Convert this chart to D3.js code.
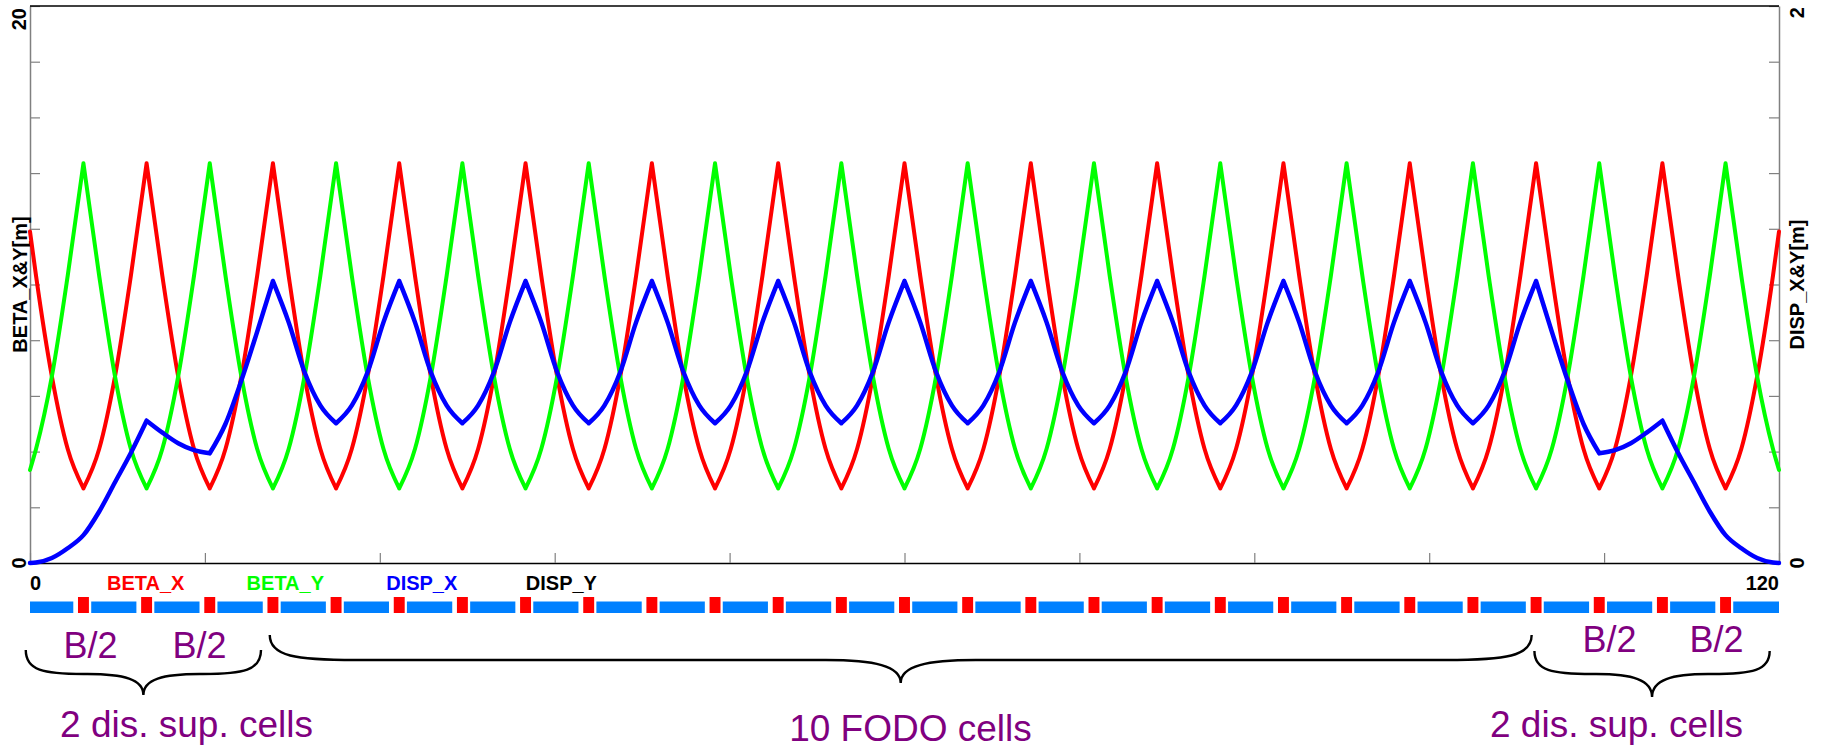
<!DOCTYPE html>
<html>
<head>
<meta charset="utf-8">
<script src="https://cdn.jsdelivr.net/npm/d3@7"></script>
<style>
  html, body { margin: 0; padding: 0; background: #ffffff; }
  svg { display: block; }
</style>
</head>
<body>
<svg id="chart" width="1821" height="749"></svg>
<script>
// ---------------- data ----------------
// longitudinal position s [m] of each optics sample
const sPos = [
  0, 0.417, 1.5, 2.583,
  3.667, 4.75, 5.833, 6.917,
  8, 9.083, 10.167, 11.25,
  12.333, 13.417, 14.5, 15.583,
  16.667, 17.75, 18.833, 19.917,
  21, 22.083, 23.167, 24.25,
  25.333, 26.417, 27.5, 28.583,
  29.667, 30.75, 31.833, 32.917,
  34, 35.083, 36.167, 37.25,
  38.333, 39.417, 40.5, 41.583,
  42.667, 43.75, 44.833, 45.917,
  47, 48.083, 49.167, 50.25,
  51.333, 52.417, 53.5, 54.583,
  55.667, 56.75, 57.833, 58.917,
  60, 61.083, 62.167, 63.25,
  64.333, 65.417, 66.5, 67.583,
  68.667, 69.75, 70.833, 71.917,
  73, 74.083, 75.167, 76.25,
  77.333, 78.417, 79.5, 80.583,
  81.667, 82.75, 83.833, 84.917,
  86, 87.083, 88.167, 89.25,
  90.333, 91.417, 92.5, 93.583,
  94.667, 95.75, 96.833, 97.917,
  99, 100.083, 101.167, 102.25,
  103.333, 104.417, 105.5, 106.583,
  107.667, 108.75, 109.833, 110.917,
  112, 113.083, 114.167, 115.25,
  116.333, 117.417, 118.5, 119.583,
  120
];

// horizontal beta function [m]
const betaX = [
  11.9, 10.3, 6.7, 4.1,
  2.68, 4.1, 6.7, 10.3,
  14.35, 10.3, 6.7, 4.1,
  2.68, 4.1, 6.7, 10.3,
  14.35, 10.3, 6.7, 4.1,
  2.68, 4.1, 6.7, 10.3,
  14.35, 10.3, 6.7, 4.1,
  2.68, 4.1, 6.7, 10.3,
  14.35, 10.3, 6.7, 4.1,
  2.68, 4.1, 6.7, 10.3,
  14.35, 10.3, 6.7, 4.1,
  2.68, 4.1, 6.7, 10.3,
  14.35, 10.3, 6.7, 4.1,
  2.68, 4.1, 6.7, 10.3,
  14.35, 10.3, 6.7, 4.1,
  2.68, 4.1, 6.7, 10.3,
  14.35, 10.3, 6.7, 4.1,
  2.68, 4.1, 6.7, 10.3,
  14.35, 10.3, 6.7, 4.1,
  2.68, 4.1, 6.7, 10.3,
  14.35, 10.3, 6.7, 4.1,
  2.68, 4.1, 6.7, 10.3,
  14.35, 10.3, 6.7, 4.1,
  2.68, 4.1, 6.7, 10.3,
  14.35, 10.3, 6.7, 4.1,
  2.68, 4.1, 6.7, 10.3,
  14.35, 10.3, 6.7, 4.1,
  2.68, 4.1, 6.7, 10.3,
  11.9
];

// vertical beta function [m]
const betaY = [
  3.34, 4.1, 6.7, 10.3,
  14.35, 10.3, 6.7, 4.1,
  2.68, 4.1, 6.7, 10.3,
  14.35, 10.3, 6.7, 4.1,
  2.68, 4.1, 6.7, 10.3,
  14.35, 10.3, 6.7, 4.1,
  2.68, 4.1, 6.7, 10.3,
  14.35, 10.3, 6.7, 4.1,
  2.68, 4.1, 6.7, 10.3,
  14.35, 10.3, 6.7, 4.1,
  2.68, 4.1, 6.7, 10.3,
  14.35, 10.3, 6.7, 4.1,
  2.68, 4.1, 6.7, 10.3,
  14.35, 10.3, 6.7, 4.1,
  2.68, 4.1, 6.7, 10.3,
  14.35, 10.3, 6.7, 4.1,
  2.68, 4.1, 6.7, 10.3,
  14.35, 10.3, 6.7, 4.1,
  2.68, 4.1, 6.7, 10.3,
  14.35, 10.3, 6.7, 4.1,
  2.68, 4.1, 6.7, 10.3,
  14.35, 10.3, 6.7, 4.1,
  2.68, 4.1, 6.7, 10.3,
  14.35, 10.3, 6.7, 4.1,
  2.68, 4.1, 6.7, 10.3,
  14.35, 10.3, 6.7, 4.1,
  2.68, 4.1, 6.7, 10.3,
  14.35, 10.3, 6.7, 4.1,
  3.34
];

// horizontal dispersion [m]
const dispX = [
  0, 0.0015, 0.018, 0.053,
  0.1, 0.185, 0.29, 0.395,
  0.511, 0.468, 0.43, 0.405,
  0.394, 0.5, 0.655, 0.83,
  1.012, 0.864, 0.686, 0.566,
  0.502, 0.566, 0.686, 0.864,
  1.012, 0.864, 0.686, 0.566,
  0.502, 0.566, 0.686, 0.864,
  1.012, 0.864, 0.686, 0.566,
  0.502, 0.566, 0.686, 0.864,
  1.012, 0.864, 0.686, 0.566,
  0.502, 0.566, 0.686, 0.864,
  1.012, 0.864, 0.686, 0.566,
  0.502, 0.566, 0.686, 0.864,
  1.012, 0.864, 0.686, 0.566,
  0.502, 0.566, 0.686, 0.864,
  1.012, 0.864, 0.686, 0.566,
  0.502, 0.566, 0.686, 0.864,
  1.012, 0.864, 0.686, 0.566,
  0.502, 0.566, 0.686, 0.864,
  1.012, 0.864, 0.686, 0.566,
  0.502, 0.566, 0.686, 0.864,
  1.012, 0.864, 0.686, 0.566,
  0.502, 0.566, 0.686, 0.864,
  1.012, 0.83, 0.655, 0.5,
  0.394, 0.405, 0.43, 0.468,
  0.511, 0.395, 0.29, 0.185,
  0.1, 0.053, 0.018, 0.0015,
  0
];

// lattice: quadrupole centres, quadrupole length, bending magnet extents [m]
const quadCenters = [
  3.667, 8, 12.333, 16.667, 21, 25.333, 29.667, 34, 38.333, 42.667,
  47, 51.333, 55.667, 60, 64.333, 68.667, 73, 77.333, 81.667, 86,
  90.333, 94.667, 99, 103.333, 107.667, 112, 116.333
];
const quadLength = 0.75;
const dipoleStart = [
  0, 4.2, 8.53, 12.86, 17.2, 21.53, 25.86, 30.2, 34.53, 38.86,
  43.2, 47.53, 51.86, 56.2, 60.53, 64.86, 69.2, 73.53, 77.86, 82.2,
  86.53, 90.86, 95.2, 99.53, 103.86, 108.2, 112.53, 116.86
];
const dipoleEnd = [
  2.97, 7.3, 11.63, 15.97, 20.3, 24.63, 28.97, 33.3, 37.63, 41.97,
  46.3, 50.63, 54.97, 59.3, 63.63, 67.97, 72.3, 76.63, 80.97, 85.3,
  89.63, 93.97, 98.3, 102.63, 106.97, 111.3, 115.63, 120
];

// axes
const sDomain = [0, 120];
const sTicks = [0, 12, 24, 36, 48, 60, 72, 84, 96, 108, 120];
const sTickLabels = ["0", "120"];
const betaDomain = [0, 20];
const betaTicks = [0, 2, 4, 6, 8, 10, 12, 14, 16, 18, 20];
const betaTickLabels = ["0", "20"];
const dispDomain = [0, 2];
const dispTicks = [0, 0.2, 0.4, 0.6, 0.8, 1, 1.2, 1.4, 1.6, 1.8, 2];
const dispTickLabels = ["0", "2"];
const leftTitle = "BETA_X&Y[m]";
const rightTitle = "DISP_X&Y[m]";

// legend
const legendNames = ["BETA_X", "BETA_Y", "DISP_X", "DISP_Y"];
const legendColors = ["#ff0000", "#00ff00", "#0000ff", "#000000"];

// lattice section annotations (extents in s [m])
const braceFrom = [-0.29, 16.45, 103.22];
const braceTo = [15.85, 103.03, 119.36];
const sectionNames = ["2 dis. sup. cells", "10 FODO cells", "2 dis. sup. cells"];
const sectionCentre = [10.74, 60.41, 108.85];
const bendLabel = "B/2";
const bendLabelAt = [4.15, 11.63, 108.37, 115.71];

// ---------------- drawing ----------------
const svg = d3.select("#chart");
const L = 30, R = 1779, T = 6, B = 563;
const boldFont = "'Liberation Sans', Arial, Helvetica, sans-serif";

const x = d3.scaleLinear().domain(sDomain).range([L, R]);
const yB = d3.scaleLinear().domain(betaDomain).range([B, T]);
const yD = d3.scaleLinear().domain(dispDomain).range([B, T]);

// frame and axes
const axisGrey = "#808080";
const leftAxis = svg.append("g").attr("transform", `translate(${L},0)`)
  .call(d3.axisLeft(yB).tickValues(betaTicks).tickSize(-10).tickSizeOuter(0).tickFormat(""));
const rightAxis = svg.append("g").attr("transform", `translate(${R},0)`)
  .call(d3.axisRight(yD).tickValues(dispTicks).tickSize(-10).tickSizeOuter(0).tickFormat(""));
const bottomAxis = svg.append("g").attr("transform", `translate(0,${B})`)
  .call(d3.axisBottom(x).tickValues(sTicks).tickSize(-10).tickSizeOuter(0).tickFormat(""));
[leftAxis, rightAxis, bottomAxis].forEach(g => {
  g.selectAll(".tick line").attr("stroke", axisGrey).attr("stroke-width", 1.2);
  g.select(".domain").attr("stroke", axisGrey).attr("stroke-width", 1.5);
});
bottomAxis.select(".domain").attr("stroke", "#000").attr("stroke-width", 1.6);
svg.append("line").attr("x1", L).attr("x2", R).attr("y1", T).attr("y2", T)
  .attr("stroke", "#000").attr("stroke-width", 1.3);

// rotated axis end labels
function vText(px, py, txt, anchor) {
  svg.append("text")
    .attr("transform", `translate(${px},${py}) rotate(-90)`)
    .attr("text-anchor", anchor)
    .attr("font-family", boldFont).attr("font-weight", "bold")
    .attr("font-size", 20).attr("fill", "#000")
    .text(txt);
}
vText(26, yB(betaDomain[0]), betaTickLabels[0], "middle");
vText(26, yB(betaDomain[1]) + 2, betaTickLabels[1], "end");
vText(1804, yD(dispDomain[0]), dispTickLabels[0], "middle");
vText(1804, yD(dispDomain[1]) + 1, dispTickLabels[1], "end");
vText(27, (T + B) / 2, leftTitle, "middle");
vText(1804, (T + B) / 2, rightTitle, "middle");

// s axis end labels
svg.append("text").attr("x", x(sDomain[0])).attr("y", 590)
  .attr("font-family", boldFont).attr("font-weight", "bold").attr("font-size", 20)
  .text(sTickLabels[0]);
svg.append("text").attr("x", x(sDomain[1])).attr("y", 590).attr("text-anchor", "end")
  .attr("font-family", boldFont).attr("font-weight", "bold").attr("font-size", 20)
  .text(sTickLabels[1]);

// legend
svg.append("g").selectAll("text").data(legendNames).join("text")
  .attr("x", (d, i) => 107 + i * 139.6).attr("y", 590)
  .attr("font-family", boldFont).attr("font-weight", "bold").attr("font-size", 20)
  .attr("fill", (d, i) => legendColors[i])
  .text(d => d);

// optics curves: each monotone stretch between extrema is drawn as a smooth
// monotone spline, so maxima and minima stay pointed at the quadrupoles
function opticsPath(values, yScale) {
  const line = d3.line().x(i => x(sPos[i])).y(i => yScale(values[i])).curve(d3.curveMonotoneX);
  const runs = [];
  let start = 0;
  for (let i = 1; i < values.length - 1; i++) {
    const a = values[i] - values[i - 1], b = values[i + 1] - values[i];
    if (a * b < 0) { runs.push(d3.range(start, i + 1)); start = i; }
  }
  runs.push(d3.range(start, values.length));
  return runs.map(r => line(r)).join("");
}
const curves = svg.append("g").attr("fill", "none")
  .attr("stroke-linejoin", "round").attr("stroke-linecap", "round");
curves.append("path").attr("d", opticsPath(betaX, yB)).attr("stroke", legendColors[0]).attr("stroke-width", 4);
curves.append("path").attr("d", opticsPath(betaY, yB)).attr("stroke", legendColors[1]).attr("stroke-width", 4);
curves.append("path").attr("d", opticsPath(dispX, yD)).attr("stroke", legendColors[2]).attr("stroke-width", 4.5);

// lattice bar
const lattice = svg.append("g");
lattice.selectAll("rect.bend").data(dipoleStart).join("rect").attr("class", "bend")
  .attr("x", (d, i) => x(d))
  .attr("width", (d, i) => x(dipoleEnd[i]) - x(d))
  .attr("y", 601.5).attr("height", 11.5)
  .attr("fill", "#0080ff");
lattice.selectAll("rect.quad").data(quadCenters).join("rect").attr("class", "quad")
  .attr("x", d => x(d - quadLength / 2))
  .attr("width", d => x(d + quadLength / 2) - x(d - quadLength / 2))
  .attr("y", 597).attr("height", 16)
  .attr("fill", "#ff0000");

// section braces
const purple = "#800080";
function bracePath(x1, x2, yTop, yMid, yTip, endW, tipW) {
  const xm = (x1 + x2) / 2;
  return `M${x1},${yTop}` +
    `C${x1},${yTop + (yMid - yTop) * 0.85} ${x1 + endW * 0.3},${yMid} ${x1 + endW},${yMid}` +
    `L${xm - tipW},${yMid}` +
    `C${xm - tipW * 0.35},${yMid} ${xm},${yMid + (yTip - yMid) * 0.25} ${xm},${yTip}` +
    `C${xm},${yMid + (yTip - yMid) * 0.25} ${xm + tipW * 0.35},${yMid} ${xm + tipW},${yMid}` +
    `L${x2 - endW},${yMid}` +
    `C${x2 - endW * 0.3},${yMid} ${x2},${yTop + (yMid - yTop) * 0.85} ${x2},${yTop}`;
}
const braceGeom = [
  { yTop: 650, yMid: 674, yTip: 695, endW: 58, tipW: 56 },
  { yTop: 635, yMid: 660, yTip: 683, endW: 86, tipW: 75 },
  { yTop: 651, yMid: 674, yTip: 697, endW: 58, tipW: 56 }
];
svg.append("g").selectAll("path").data(braceFrom).join("path")
  .attr("d", (d, i) => {
    const g = braceGeom[i];
    return bracePath(x(d), x(braceTo[i]), g.yTop, g.yMid, g.yTip, g.endW, g.tipW);
  })
  .attr("fill", "none").attr("stroke", "#000").attr("stroke-width", 2.4);

const sansFont = "'Liberation Sans', Arial, Helvetica, sans-serif";
svg.append("g").selectAll("text").data(bendLabelAt).join("text")
  .attr("x", d => x(d)).attr("y", (d, i) => i < 2 ? 658 : 652)
  .attr("text-anchor", "middle")
  .attr("font-family", sansFont).attr("font-size", 36).attr("fill", purple)
  .text(bendLabel);
svg.append("g").selectAll("text").data(sectionNames).join("text")
  .attr("x", (d, i) => x(sectionCentre[i])).attr("y", (d, i) => i === 1 ? 741 : 737)
  .attr("text-anchor", "middle")
  .attr("font-family", sansFont).attr("font-size", 37).attr("fill", purple)
  .text(d => d);
</script>
</body>
</html>
